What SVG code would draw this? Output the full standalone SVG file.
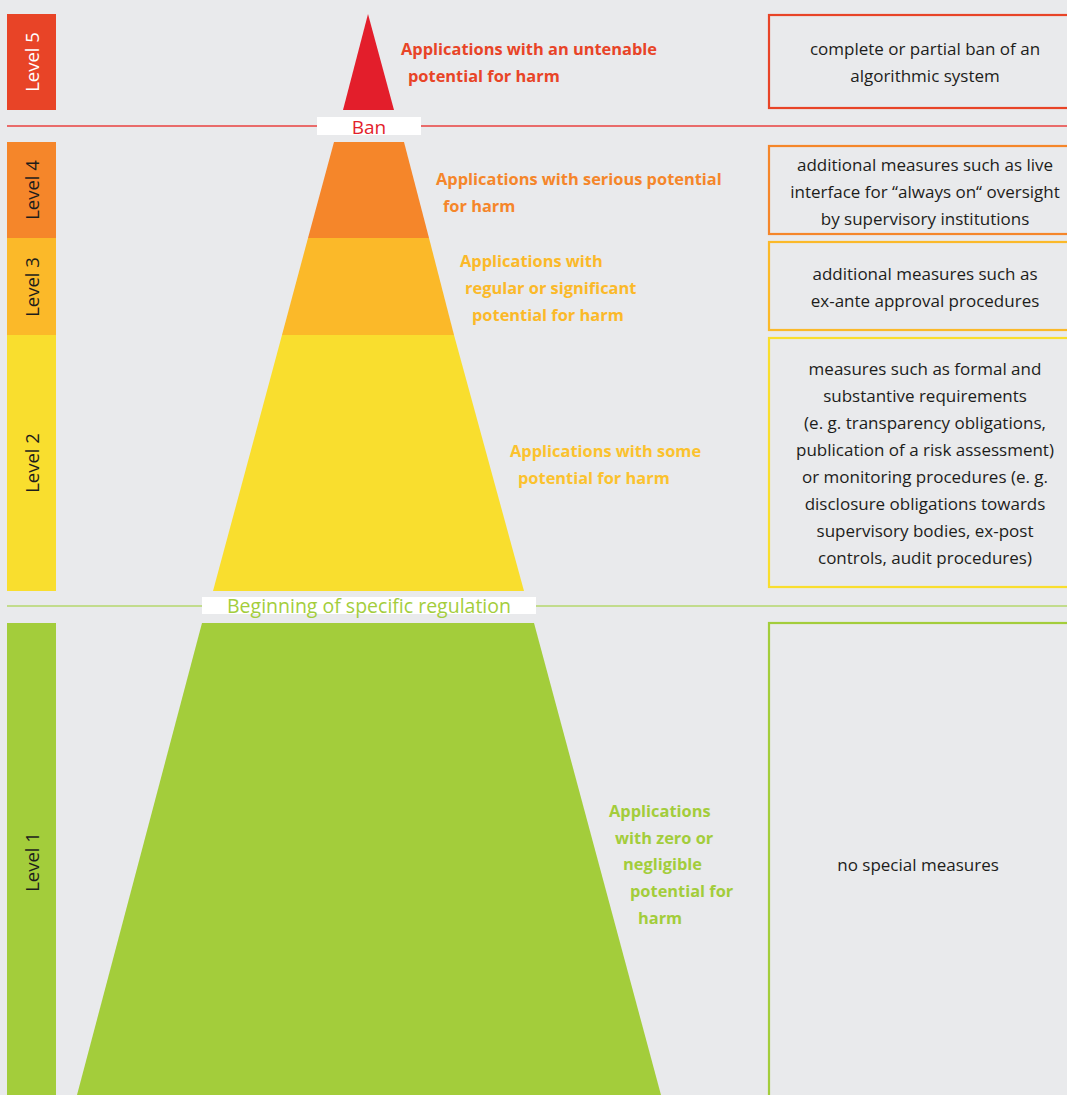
<svg xmlns="http://www.w3.org/2000/svg" width="1067" height="1095" viewBox="0 0 1067 1095">
<style>
.bar-t{font-family:"Open Sans","Noto Sans",sans-serif;font-size:18.5px;font-weight:500;fill:#1d1d1b;text-anchor:middle}
.lbl{font-family:"Open Sans","Noto Sans",sans-serif;font-size:16.4px;font-weight:bold}
.box{fill:none;stroke-width:2.2}
.bt{font-family:"Open Sans","Noto Sans",sans-serif;font-size:17px;fill:#1d1d1b;text-anchor:middle}
</style>
<rect x="0" y="0" width="1067" height="1095" fill="#e9eaec"/>
<g id="connectors">
<line x1="7" y1="126" x2="1067" y2="126" stroke="#e8413f" stroke-width="1.5"/>
<line x1="7" y1="606" x2="1067" y2="606" stroke="#c2dc8c" stroke-width="1.8"/>
</g>
<g id="level5">
<rect x="7" y="14" width="49" height="96" fill="#e84427"/>
<text class="bar-t" transform="translate(39,62) rotate(-90)" style="fill:#ffffff">Level 5</text>
<polygon points="368,14 394,110 343,110" fill="#e31e2b"/>
<text class="lbl" fill="#e84427"><tspan x="401" y="55">Applications with an untenable</tspan><tspan x="408" y="82">potential for harm</tspan></text>
<rect class="box" x="769" y="15" width="320" height="93" stroke="#e84427"/>
<text class="bt"><tspan x="925" y="55">complete or partial ban of an</tspan><tspan x="925" y="82">algorithmic system</tspan></text>
</g>
<g id="ban">
<rect x="317" y="117" width="104" height="18" fill="#ffffff"/>
<text x="369" y="134" font-family="Open Sans, Noto Sans, sans-serif" font-size="19" fill="#e31e2b" text-anchor="middle">Ban</text>
</g>
<g id="level4">
<rect x="7" y="142" width="49" height="96" fill="#f5862a"/>
<text class="bar-t" transform="translate(39,190) rotate(-90)">Level 4</text>
<polygon points="334,142 404,142 429,238 308,238" fill="#f5862a"/>
<text class="lbl" fill="#f5862a"><tspan x="436" y="185">Applications with serious potential</tspan><tspan x="443" y="212">for harm</tspan></text>
<rect class="box" x="769" y="146" width="320" height="88" stroke="#f5862a"/>
<text class="bt"><tspan x="925" y="171">additional measures such as live</tspan><tspan x="925" y="198">interface for “always on“ oversight</tspan><tspan x="925" y="225">by supervisory institutions</tspan></text>
</g>
<g id="level3">
<rect x="7" y="238" width="49" height="97" fill="#fbb929"/>
<text class="bar-t" transform="translate(39,287) rotate(-90)">Level 3</text>
<polygon points="308,238 429,238 454,335 282,335" fill="#fbb929"/>
<text class="lbl" fill="#fbb929"><tspan x="460" y="267">Applications with</tspan><tspan x="465" y="294">regular or significant</tspan><tspan x="472" y="321">potential for harm</tspan></text>
<rect class="box" x="769" y="242" width="320" height="88" stroke="#fbb929"/>
<text class="bt"><tspan x="925" y="280">additional measures such as</tspan><tspan x="925" y="307">ex-ante approval procedures</tspan></text>
</g>
<g id="level2">
<rect x="7" y="335" width="49" height="256" fill="#f9de2e"/>
<text class="bar-t" transform="translate(39,463) rotate(-90)">Level 2</text>
<polygon points="282,335 454,335 524,591 213,591" fill="#f9de2e"/>
<text class="lbl" fill="#fbc22e"><tspan x="510" y="457">Applications with some</tspan><tspan x="518" y="484">potential for harm</tspan></text>
<rect class="box" x="769" y="338" width="320" height="249" stroke="#f9de2e"/>
<text class="bt"><tspan x="925" y="375">measures such as formal and</tspan><tspan x="925" y="402">substantive requirements</tspan><tspan x="925" y="429">(e. g. transparency obligations,</tspan><tspan x="925" y="456">publication of a risk assessment)</tspan><tspan x="925" y="483">or monitoring procedures (e. g.</tspan><tspan x="925" y="510">disclosure obligations towards</tspan><tspan x="925" y="537">supervisory bodies, ex-post</tspan><tspan x="925" y="564">controls, audit procedures)</tspan></text>
</g>
<g id="regulation">
<rect x="202" y="597" width="334" height="17" fill="#ffffff"/>
<text x="369" y="613" font-family="Open Sans, Noto Sans, sans-serif" font-size="19.5" fill="#a3cd3b" text-anchor="middle">Beginning of specific regulation</text>
</g>
<g id="level1">
<rect x="7" y="623" width="49" height="480" fill="#a3cd3b"/>
<text class="bar-t" transform="translate(39,862) rotate(-90)">Level 1</text>
<polygon points="202,623 534,623 661,1095 77,1095" fill="#a3cd3b"/>
<text class="lbl" fill="#a3cd3b"><tspan x="609" y="817">Applications</tspan><tspan x="615" y="844">with zero or</tspan><tspan x="623" y="870">negligible</tspan><tspan x="630" y="897">potential for</tspan><tspan x="638" y="924">harm</tspan></text>
<rect class="box" x="769" y="623" width="320" height="500" stroke="#a3cd3b"/>
<text class="bt" x="918" y="871">no special measures</text>
</g>
</svg>
